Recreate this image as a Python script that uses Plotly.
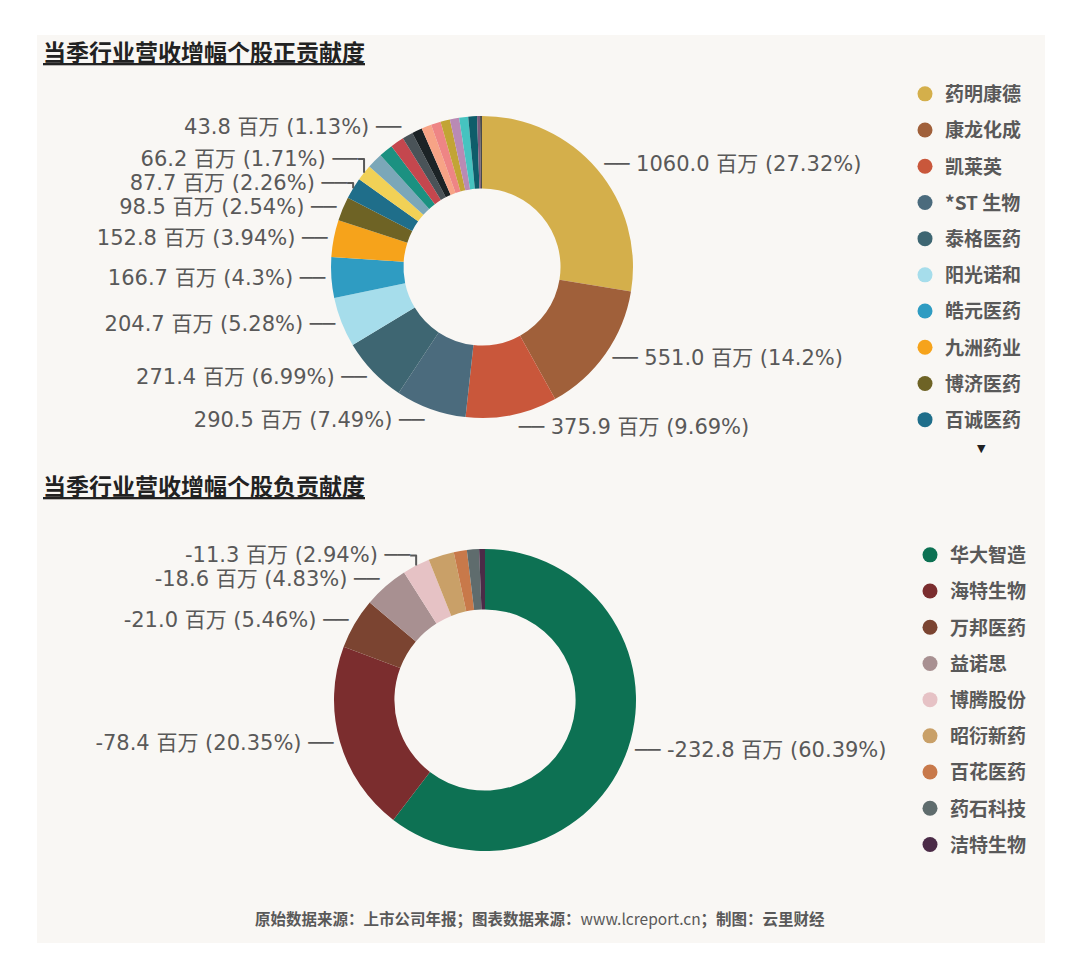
import plotly.graph_objects as go

# ---------------------------------------------------------------------------
# Data, values in 百万
# ---------------------------------------------------------------------------
pos_names = [
    "药明康德", "康龙化成", "凯莱英", "*ST 生物", "泰格医药", "阳光诺和",
    "皓元医药", "九洲药业", "博济医药", "百诚医药",
    "第11名", "第12名", "第13名", "第14名", "第15名", "第16名", "第17名",
    "第18名", "第19名", "第20名", "第21名", "第22名", "第23名", "第24名",
]
pos_values = [
    1060.0, 551.0, 375.9, 290.5, 271.4, 204.7, 166.7, 152.8, 98.5, 87.7,
    66.2, 64.0, 58.0, 56.0, 43.8, 42.0, 41.0, 40.0, 39.0, 38.0, 37.0, 36.0, 12.0, 8.0,
]
pos_pct = [
    27.32, 14.2, 9.69, 7.49, 6.99, 5.28, 4.3, 3.94, 2.54, 2.26,
    1.71, None, None, None, 1.13, None, None, None, None, None, None, None, None, None,
]
pos_colors = [
    "#D4AF4B", "#A0603A", "#C9573B", "#4B6B7D", "#3E6672", "#A6DDEB",
    "#2F9CC2", "#F6A31B", "#6E6325", "#1F6E8A", "#F1D156", "#7BA7B8",
    "#1B9181", "#C4474E", "#4A5358", "#1C2326", "#F7A386", "#EE8585",
    "#C2A435", "#B98AB4", "#46C3C0", "#0F5D6A", "#7B5C7C", "#494949",
]
pos_legend_count = 10   # the scroll legend only shows the first ten

neg_names = ["华大智造", "海特生物", "万邦医药", "益诺思", "博腾股份",
             "昭衍新药", "百花医药", "药石科技", "洁特生物"]
neg_values = [-232.8, -78.4, -21.0, -18.6, -11.3, -10.6, -5.4, -5.0, -2.4]
neg_pct = [60.39, 20.35, 5.46, 4.83, 2.94, None, None, None, None]
neg_colors = ["#0D7153", "#7B2D2E", "#7B4431", "#A89091", "#E6C2C5",
              "#C9A068", "#C8794A", "#5F6C6D", "#4B2B47"]

TITLE_POS = "当季行业营收增幅个股正贡献度"
TITLE_NEG = "当季行业营收增幅个股负贡献度"
FOOTER = ("<b>原始数据来源：上市公司年报；图表数据来源：</b>www.lcreport.cn"
          "<b>；制图：云里财经</b>")

# ---------------------------------------------------------------------------
# Style
# ---------------------------------------------------------------------------
PAGE_W, PAGE_H = 1080, 978
BODY = 8                      # default body margin of the html page
W, H = PAGE_W - 2 * BODY, PAGE_H - 2 * BODY
PANEL_BG = "#F9F7F4"
TXT = "#595959"
LABEL_FONT = dict(family="DejaVu Sans, Noto Sans CJK SC", size=21, color=TXT)
CJK = "Noto Sans CJK SC"
LEAD = "──"                   # short leader stroke between label and ring


def _labels(values, pct):
    """Outside labels; a leader stroke is put on the side facing the ring."""
    total = sum(abs(v) for v in values)
    out, cum = [], 0.0
    for v, p in zip(values, pct):
        mid = (cum + abs(v) / 2) / total
        cum += abs(v)
        if p is None:
            out.append("")
            continue
        txt = f"{v:.1f} 百万 ({p:g}%)"
        out.append(f"{LEAD} {txt}" if mid < 0.5 else f"{txt} {LEAD}")
    return out


def _px(x, y):
    """page pixel position (from top-left) -> paper coords"""
    return (x - BODY) / W, 1 - (y - BODY) / H


fig = go.Figure()

# ---- positive contributions donut ----
x0, y0 = _px(331, 116)
x1, y1 = _px(633, 418)
fig.add_trace(go.Pie(
    labels=pos_names,
    values=pos_values,
    text=_labels(pos_values, pos_pct),
    textinfo="text",
    textposition="outside",
    outsidetextfont=LABEL_FONT,
    marker=dict(colors=pos_colors, line=dict(width=0)),
    hole=0.52,
    sort=False,
    direction="clockwise",
    rotation=0,
    showlegend=False,
    domain=dict(x=[x0, x1], y=[y1, y0]),
    hovertemplate="%{label}: %{value} 百万<extra></extra>",
))

# ---- negative contributions donut ----
x0, y0 = _px(334, 549)
x1, y1 = _px(636, 851)
fig.add_trace(go.Pie(
    labels=neg_names,
    values=[-v for v in neg_values],
    text=_labels(neg_values, neg_pct),
    textinfo="text",
    textposition="outside",
    outsidetextfont=LABEL_FONT,
    marker=dict(colors=neg_colors, line=dict(width=0)),
    hole=0.6,
    sort=False,
    direction="clockwise",
    rotation=0,
    showlegend=False,
    domain=dict(x=[x0, x1], y=[y1, y0]),
    hovertemplate="%{label}: -%{value} 百万<extra></extra>",
))

# ---- legend entries (dummy traces so only the listed names show) ----
for i, (name, color) in enumerate(zip(pos_names[:pos_legend_count], pos_colors)):
    fig.add_trace(go.Scatter(
        x=[None], y=[None], mode="markers", name=name,
        marker=dict(symbol="circle", size=15, color=color),
        legend="legend", legendgroup=f"p{i}",
    ))
for i, (name, color) in enumerate(zip(neg_names, neg_colors)):
    fig.add_trace(go.Scatter(
        x=[None], y=[None], mode="markers", name=name,
        marker=dict(symbol="circle", size=15, color=color),
        legend="legend2", legendgroup=f"n{i}",
    ))

legend_style = dict(
    xanchor="left", yanchor="top",
    bgcolor="rgba(0,0,0,0)",
    font=dict(family=CJK, size=19, color=TXT, weight="bold"),
    tracegroupgap=8.5,
    itemclick=False, itemdoubleclick=False,
)
lx, ly = _px(905, 75)
lx2, ly2 = _px(910, 536)

annotations = [
    dict(x=_px(41, 0)[0], y=_px(0, 32)[1], xref="paper", yref="paper",
         xanchor="left", yanchor="top", showarrow=False,
         text=f"<b><span style='text-decoration:underline'>{TITLE_POS}</span></b>",
         font=dict(family=CJK, size=23, color="#222222")),
    dict(x=_px(41, 0)[0], y=_px(0, 466)[1], xref="paper", yref="paper",
         xanchor="left", yanchor="top", showarrow=False,
         text=f"<b><span style='text-decoration:underline'>{TITLE_NEG}</span></b>",
         font=dict(family=CJK, size=23, color="#222222")),
    dict(x=_px(540, 0)[0], y=_px(0, 918)[1], xref="paper", yref="paper",
         xanchor="center", yanchor="middle", showarrow=False,
         text=FOOTER, font=dict(family=CJK, size=15.5, color=TXT)),
    dict(x=_px(981, 0)[0], y=_px(0, 448)[1], xref="paper", yref="paper",
         xanchor="center", yanchor="middle", showarrow=False,
         text="▼", font=dict(family="DejaVu Sans", size=11, color="#222222")),
]

px0, py0 = _px(37, 35)
px1, py1 = _px(1045, 943)
fig.update_layout(
    width=W, height=H,
    margin=dict(l=0, r=0, t=0, b=0),
    paper_bgcolor="#FFFFFF",
    plot_bgcolor="rgba(0,0,0,0)",
    xaxis=dict(visible=False),
    yaxis=dict(visible=False),
    legend=dict(x=lx, y=ly, **legend_style),
    legend2=dict(x=lx2, y=ly2, **legend_style),
    annotations=annotations,
    shapes=[dict(
        type="rect", xref="paper", yref="paper", layer="below",
        x0=px0, x1=px1, y0=py1, y1=py0,
        fillcolor=PANEL_BG, line=dict(width=0),
    )],
)

fig.write_html("out.html")
